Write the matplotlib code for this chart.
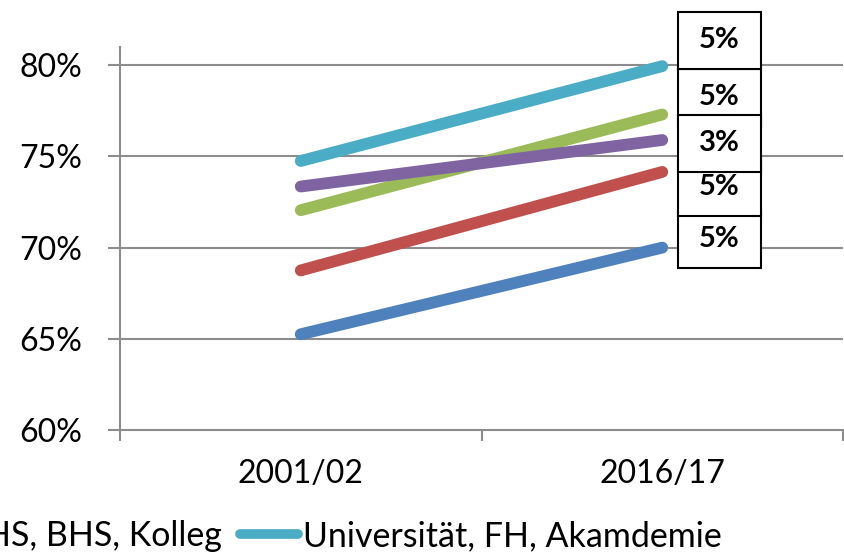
import matplotlib
matplotlib.use("Agg")
import matplotlib.pyplot as plt
from matplotlib.patches import Rectangle
from matplotlib.lines import Line2D
from matplotlib.transforms import ScaledTranslation

plt.rcParams['font.family'] = ['Lato', 'DejaVu Sans']

# ---- data ----
categories = ["2001/02", "2016/17"]
series_names = ["Pflichtschule", "Lehre", "BMS", "AHS, BHS, Kolleg", "Universität, FH, Akamdemie"]
series_colors = ["#4F81BD", "#C0504D", "#9BBB59", "#8064A2", "#4BACC6"]
start_values = [65.25, 68.75, 72.05, 73.35, 74.75]
end_values = [70.0, 74.15, 77.3, 75.9, 79.95]
label_texts = ["5%", "5%", "5%", "3%", "5%"]
label_y = [70.47, 73.32, 78.25, 75.73, 81.37]
yticks = [60, 65, 70, 75, 80]
ytick_labels = ["60%", "65%", "70%", "75%", "80%"]

W, H = 844, 553
fig = plt.figure(figsize=(W / 100, H / 100), dpi=100)
ax = fig.add_axes([120 / W, 1 - 430 / H, (843 - 120) / W, (430 - 47) / H])

x = list(range(len(categories)))
for s, e, c in zip(start_values, end_values, series_colors):
    ax.plot(x, [s, e], color=c, lw=8.5, solid_capstyle='round', zorder=3, clip_on=False)

ax.set_xlim(-0.5, 1.5)
ax.set_ylim(60, 81)

grid_c = "#8C8C8C"
ax.set_yticks(yticks)
ax.set_yticklabels(ytick_labels)
for yv in yticks[1:]:
    ax.axhline(yv, color=grid_c, lw=1.5, zorder=1)

ax.set_xticks(x)
ax.set_xticklabels(categories)
ax.set_xticks([-0.5, 0.5, 1.5], minor=True)
ax.tick_params(axis='x', which='major', length=0, pad=21, labelsize=23)
ax.tick_params(axis='x', which='minor', length=8, width=1.5, color=grid_c, direction='out')
ax.tick_params(axis='y', length=9, width=1.5, color=grid_c, direction='out', pad=18, labelsize=23)

for side in ['top', 'right']:
    ax.spines[side].set_visible(False)
for side in ['left', 'bottom']:
    ax.spines[side].set_color(grid_c)
    ax.spines[side].set_linewidth(1.5)

# data label boxes
box_w, box_h = 0.83, 0.57  # inches
label_x = 1.158
for i, (txt, ly) in enumerate(zip(label_texts, label_y)):
    trans = fig.dpi_scale_trans + ScaledTranslation(label_x, ly, ax.transData)
    rect = Rectangle((-box_w / 2, -box_h / 2), box_w, box_h, transform=trans,
                     facecolor='white', edgecolor='black', lw=1.5, zorder=5 + 2 * i, clip_on=False)
    ax.add_artist(rect)
    ax.text(label_x, ly, txt, ha='center', va='center', fontsize=21, fontweight='bold',
            zorder=6 + 2 * i, clip_on=False)

# legend (cropped at the left edge, single row)
handles = [Line2D([0], [0], color=c, lw=7, solid_capstyle='round') for c in series_colors[3:]]
fig.legend(handles, series_names[3:], loc='center right',
           bbox_to_anchor=(722 / W, 1 - 536 / H), ncol=2, frameon=False,
           fontsize=24.5, handlelength=1.7, handletextpad=0.15, columnspacing=0.55,
           borderpad=0, borderaxespad=0)

fig.savefig("out.png", dpi=100)
